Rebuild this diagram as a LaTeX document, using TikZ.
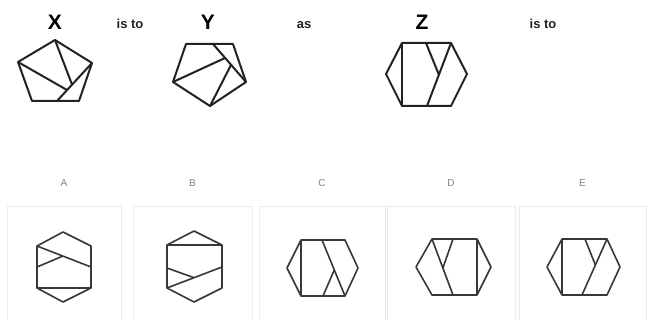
\documentclass[tikz,border=0pt]{standalone}
\usepackage{fontspec}
\setmainfont{Liberation Sans}
\usetikzlibrary{positioning}
\definecolor{ink}     {HTML}{222222}
\definecolor{boxline} {HTML}{EBEBEB}
\definecolor{capgray} {HTML}{808080}

\tikzset{
  figline/.style={draw=ink, line width=2pt, line join=round},
  optline/.style={draw=ink!90, line width=1.6pt, line join=round},
  bigletter/.style={font=\fontsize{21}{24}\selectfont\bfseries, anchor=base},
  linkword/.style={font=\fontsize{13}{15}\selectfont\bfseries, text=ink, anchor=base},
  optlabel/.style={font=\fontsize{10}{12}\selectfont, text=capgray, anchor=base},
  optbox/.style={draw=boxline, line width=1pt, anchor=north, minimum height=130pt}
}

\begin{document}
\begin{tikzpicture}[x=1pt,y=-1pt]
  \clip (0,0) rectangle (656,320);
  \fill[white] (0,0) rectangle (656,320);

  % question row
  \node[bigletter] (labX) at (55,30)  {X};
  \node[linkword]  (isto1) at (130,29) {is to};
  \node[bigletter] (labY) at (208,30) {Y};
  \node[linkword]  (as)   at (304,29) {as};
  \node[bigletter] (labZ) at (422,30) {Z};
  \node[linkword]  (isto2) at (543,29) {is to};

  % X
  \draw[figline] (55,40) -- (92,63) -- (79,101) -- (32,101) -- (18,62) -- cycle;
  \draw[figline] (92,63) -- (57,101);
  \draw[figline] (55,40) -- (72,84.5);
  \draw[figline] (18,62) -- (67,90);
  % Y
  \draw[figline] (186,44) -- (233,44) -- (246,82) -- (210,106) -- (173,82) -- cycle;
  \draw[figline] (213,44) -- (246,82);
  \draw[figline] (173,82) -- (225,58);
  \draw[figline] (210,106) -- (231,65);
  % Z
  \draw[figline] (402,43) -- (451,43) -- (467,74) -- (451,106) -- (402,106) -- (386,74) -- cycle;
  \draw[figline] (402,43) -- (402,106);
  \draw[figline] (451,43) -- (427,106);
  \draw[figline] (426,43) -- (439,75);

  % answer boxes
  \foreach \cx/\w/\l in {64/114/A, 192.5/119/B, 322/126/C, 451/128/D, 582.5/127/E} {
    \node[optbox, minimum width=\w pt] (box\l) at (\cx,206) {};
    \node[optlabel] (lab\l) at (\cx,187) {\l};
  }

  % A
  \draw[optline] (63,232) -- (91,246) -- (91,288) -- (63,302) -- (37,288) -- (37,246) -- cycle;
  \draw[optline] (37,288) -- (91,288);
  \draw[optline] (37,246) -- (91,267);
  \draw[optline] (37,267) -- (63,256);
  % B
  \draw[optline] (194,231) -- (222,245) -- (222,288) -- (194,302) -- (167,288) -- (167,245) -- cycle;
  \draw[optline] (167,245) -- (222,245);
  \draw[optline] (222,267) -- (167,288);
  \draw[optline] (167,268) -- (194,277.7);
  % C
  \draw[optline] (301,240) -- (345,240) -- (358,268) -- (345,296) -- (301,296) -- (287,268) -- cycle;
  \draw[optline] (301,240) -- (301,296);
  \draw[optline] (322,240) -- (345,296);
  \draw[optline] (323,296) -- (334.3,270);
  % D
  \draw[optline] (432,239) -- (477,239) -- (491,267) -- (477,295) -- (432,295) -- (416,267) -- cycle;
  \draw[optline] (477,239) -- (477,295);
  \draw[optline] (432,239) -- (453,295);
  \draw[optline] (453,239) -- (442.9,268);
  % E
  \draw[optline] (562,239) -- (607,239) -- (620,267) -- (607,295) -- (562,295) -- (547,267) -- cycle;
  \draw[optline] (562,239) -- (562,295);
  \draw[optline] (607,239) -- (582,295);
  \draw[optline] (585,239) -- (595.4,265);
\end{tikzpicture}
\end{document}
